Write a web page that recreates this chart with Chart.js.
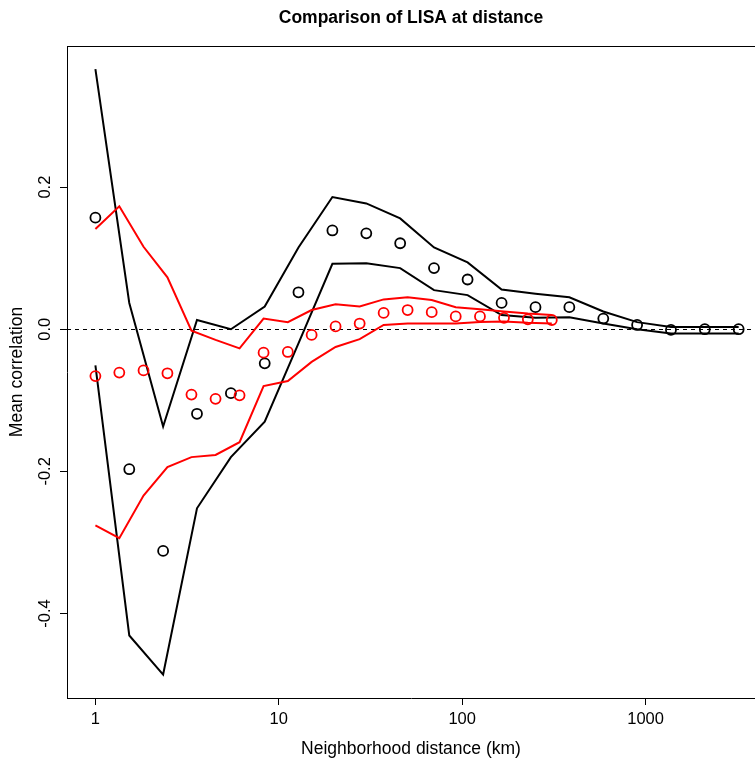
<!DOCTYPE html>
<html>
<head>
<meta charset="utf-8">
<script src="https://cdn.jsdelivr.net/npm/chart.js@4/dist/chart.umd.min.js"></script>
<style>
  html, body { margin: 0; padding: 0; background: #fff; }
  #wrap { width: 755px; height: 760px; }
</style>
</head>
<body>
<div id="wrap"><canvas id="chart" width="755" height="760"></canvas></div>
<script>
// distances (km) for the two sets of results
const blackDist = [1, 1.53, 2.34, 3.58, 5.48, 8.38, 12.8, 19.6, 30.0, 45.9, 70.2, 107, 164, 251, 384, 588, 899, 1375, 2103, 3217];
const blackMean = [0.157, -0.197, -0.312, -0.119, -0.090, -0.048, 0.052, 0.139, 0.135, 0.121, 0.086, 0.070, 0.037, 0.031, 0.031, 0.015, 0.006, -0.001, 0.000, 0.000];
const blackUpper = [0.366, 0.037, -0.137, 0.013, 0.000, 0.032, 0.115, 0.186, 0.177, 0.156, 0.115, 0.094, 0.056, 0.050, 0.045, 0.025, 0.010, 0.003, 0.003, 0.003];
const blackLower = [-0.051, -0.431, -0.486, -0.252, -0.180, -0.130, -0.020, 0.092, 0.093, 0.086, 0.055, 0.048, 0.020, 0.016, 0.017, 0.008, 0.000, -0.006, -0.006, -0.006];

const redDist = [1, 1.35, 1.83, 2.47, 3.34, 4.52, 6.11, 8.26, 11.2, 15.1, 20.4, 27.6, 37.3, 50.4, 68.2, 92.2, 125, 169, 228, 308];
const redMean = [-0.066, -0.061, -0.058, -0.062, -0.092, -0.098, -0.093, -0.033, -0.032, -0.008, 0.004, 0.008, 0.023, 0.027, 0.024, 0.018, 0.018, 0.016, 0.014, 0.013];
const redUpper = [0.141, 0.173, 0.116, 0.073, -0.002, -0.015, -0.027, 0.015, 0.010, 0.027, 0.035, 0.032, 0.042, 0.045, 0.041, 0.031, 0.028, 0.025, 0.022, 0.020];
const redLower = [-0.276, -0.294, -0.234, -0.194, -0.180, -0.177, -0.159, -0.080, -0.073, -0.046, -0.025, -0.014, 0.006, 0.008, 0.008, 0.008, 0.010, 0.011, 0.009, 0.008];

const xTicks = [1, 10, 100, 1000];
const yTicks = [-0.4, -0.2, 0.0, 0.2];

Chart.defaults.font.family = '"Liberation Sans", Arial, sans-serif';
Chart.defaults.color = '#000';

function pts(xs, ys) {
  return xs.map((x, i) => ({ x, y: ys[i] }));
}

function band(label, xs, ys, color) {
  return { label, data: pts(xs, ys), showLine: true, borderColor: color, borderWidth: 2, pointRadius: 0, tension: 0, fill: false };
}

function dots(label, xs, ys, color) {
  return { label, data: pts(xs, ys), showLine: false, borderColor: color, backgroundColor: 'rgba(0,0,0,0)', borderWidth: 1.8, pointRadius: 5, pointStyle: 'circle' };
}

// zero reference line and the top edge of the box
const boxLines = {
  id: 'boxLines',
  beforeDatasetsDraw(chart) {
    const { ctx, chartArea: a, scales } = chart;
    const y0 = Math.round(scales.y.getPixelForValue(0)) + 0.5;
    ctx.save();
    ctx.strokeStyle = '#000';
    ctx.lineWidth = 1;
    ctx.setLineDash([4, 4]);
    ctx.beginPath();
    ctx.moveTo(a.left, y0);
    ctx.lineTo(a.right, y0);
    ctx.stroke();
    ctx.setLineDash([]);
    ctx.beginPath();
    ctx.moveTo(a.left, a.top + 0.5);
    ctx.lineTo(a.right, a.top + 0.5);
    ctx.stroke();
    ctx.restore();
  }
};

new Chart(document.getElementById('chart'), {
  type: 'scatter',
  data: {
    datasets: [
      dots('red mean', redDist, redMean, '#ff0000'),
      band('red upper', redDist, redUpper, '#ff0000'),
      band('red lower', redDist, redLower, '#ff0000'),
      dots('black mean', blackDist, blackMean, '#000000'),
      band('black upper', blackDist, blackUpper, '#000000'),
      band('black lower', blackDist, blackLower, '#000000')
    ]
  },
  options: {
    responsive: false,
    animation: false,
    layout: { padding: 0, autoPadding: false },
    plugins: {
      legend: { display: false },
      tooltip: { enabled: false },
      title: {
        display: true,
        text: 'Comparison of LISA at distance',
        fullSize: false,
        font: { size: 17.5, weight: 'bold', lineHeight: 1.2 },
        padding: { top: 7.5, bottom: 17.5 }
      }
    },
    scales: {
      x: {
        type: 'logarithmic',
        min: 0.72,
        max: 3950,
        afterBuildTicks: s => { s.ticks = xTicks.map(v => ({ value: v })); },
        afterFit: s => { s.height = 62; s.paddingLeft = 0; s.paddingRight = 0; },
        ticks: { autoSkip: false, maxRotation: 0, padding: 5, font: { size: 16.5 }, callback: v => String(v) },
        grid: { drawOnChartArea: false, drawTicks: true, tickLength: 7, color: '#000' },
        border: { display: true, color: '#000', width: 1 },
        title: { display: true, text: 'Neighborhood distance (km)', font: { size: 17.5 }, padding: { top: 0, bottom: 0 } }
      },
      y: {
        min: -0.519,
        max: 0.3986,
        afterBuildTicks: s => { s.ticks = yTicks.map(v => ({ value: v })); },
        afterFit: s => { s.width = 67; s.paddingTop = 0; s.paddingBottom = 0; },
        ticks: { autoSkip: false, minRotation: 90, maxRotation: 90, crossAlign: 'center', padding: 0, font: { size: 16.5 }, callback: v => v.toFixed(1) },
        grid: { drawOnChartArea: false, drawTicks: true, tickLength: 7, color: '#000' },
        border: { display: true, color: '#000', width: 1 },
        title: { display: true, text: 'Mean correlation', font: { size: 17.5 }, padding: { top: 7, bottom: 7 } }
      }
    }
  },
  plugins: [boxLines]
});
</script>
</body>
</html>
